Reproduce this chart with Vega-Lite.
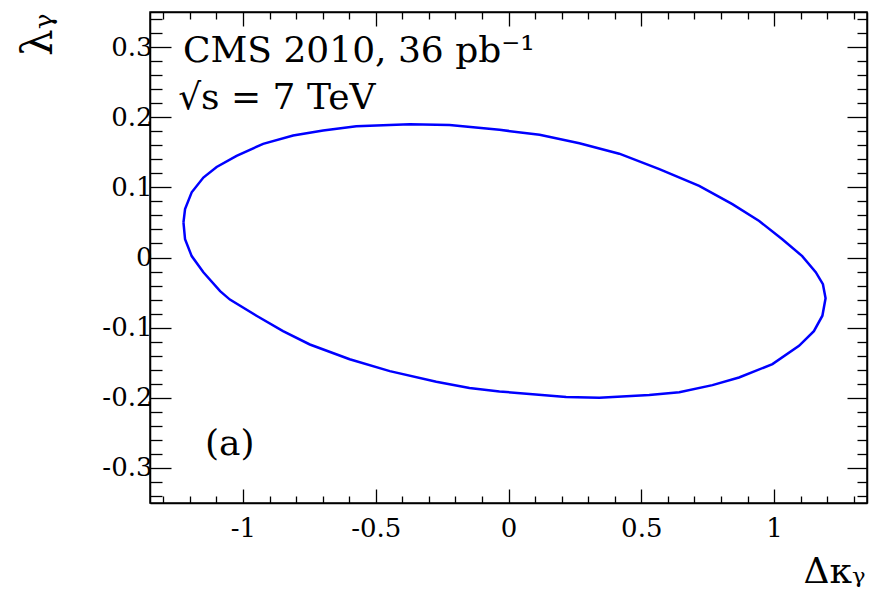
{
  "$schema": "https://vega.github.io/schema/vega-lite/v6.json",
  "width": 717,
  "height": 491,
  "autosize": {"type": "none"},
  "padding": {"left": 150, "top": 12, "right": 4, "bottom": 90},
  "background": "white",
  "config": {
    "view": {"stroke": "black", "strokeWidth": 1.5},
    "font": "DejaVu Serif",
    "axis": {"grid": false, "domainColor": "black", "domainWidth": 1.5, "tickColor": "black", "tickWidth": 1.3, "labelColor": "black", "labelFont": "DejaVu Serif", "labelFontSize": 26, "titleFont": "DejaVu Serif", "titleFontWeight": "normal", "titleColor": "black"}
  },
  "layer": [
    {
      "data": {"values": [
        {"i": 1, "dk": -1.224, "lg": 0.050},
        {"i": 2, "dk": -1.218, "lg": 0.069},
        {"i": 3, "dk": -1.193, "lg": 0.093},
        {"i": 4, "dk": -1.149, "lg": 0.114},
        {"i": 5, "dk": -1.099, "lg": 0.129},
        {"i": 6, "dk": -1.024, "lg": 0.145},
        {"i": 7, "dk": -0.924, "lg": 0.162},
        {"i": 8, "dk": -0.811, "lg": 0.174},
        {"i": 9, "dk": -0.698, "lg": 0.181},
        {"i": 10, "dk": -0.573, "lg": 0.187},
        {"i": 11, "dk": -0.372, "lg": 0.190},
        {"i": 12, "dk": -0.222, "lg": 0.189},
        {"i": 13, "dk": -0.034, "lg": 0.182},
        {"i": 14, "dk": 0.117, "lg": 0.175},
        {"i": 15, "dk": 0.267, "lg": 0.163},
        {"i": 16, "dk": 0.417, "lg": 0.148},
        {"i": 17, "dk": 0.568, "lg": 0.126},
        {"i": 18, "dk": 0.718, "lg": 0.102},
        {"i": 19, "dk": 0.843, "lg": 0.076},
        {"i": 20, "dk": 0.944, "lg": 0.052},
        {"i": 21, "dk": 1.031, "lg": 0.026},
        {"i": 22, "dk": 1.106, "lg": 0.002},
        {"i": 23, "dk": 1.157, "lg": -0.021},
        {"i": 24, "dk": 1.184, "lg": -0.038},
        {"i": 25, "dk": 1.194, "lg": -0.058},
        {"i": 26, "dk": 1.182, "lg": -0.083},
        {"i": 27, "dk": 1.150, "lg": -0.105},
        {"i": 28, "dk": 1.094, "lg": -0.126},
        {"i": 29, "dk": 0.994, "lg": -0.152},
        {"i": 30, "dk": 0.868, "lg": -0.171},
        {"i": 31, "dk": 0.768, "lg": -0.182},
        {"i": 32, "dk": 0.643, "lg": -0.192},
        {"i": 33, "dk": 0.530, "lg": -0.196},
        {"i": 34, "dk": 0.342, "lg": -0.200},
        {"i": 35, "dk": 0.217, "lg": -0.199},
        {"i": 36, "dk": 0.091, "lg": -0.195},
        {"i": 37, "dk": -0.034, "lg": -0.191},
        {"i": 38, "dk": -0.147, "lg": -0.186},
        {"i": 39, "dk": -0.272, "lg": -0.177},
        {"i": 40, "dk": -0.447, "lg": -0.162},
        {"i": 41, "dk": -0.598, "lg": -0.145},
        {"i": 42, "dk": -0.748, "lg": -0.124},
        {"i": 43, "dk": -0.849, "lg": -0.105},
        {"i": 44, "dk": -0.949, "lg": -0.083},
        {"i": 45, "dk": -1.049, "lg": -0.060},
        {"i": 46, "dk": -1.086, "lg": -0.048},
        {"i": 47, "dk": -1.149, "lg": -0.021},
        {"i": 48, "dk": -1.193, "lg": 0.002},
        {"i": 49, "dk": -1.218, "lg": 0.026},
        {"i": 50, "dk": -1.224, "lg": 0.050}
      ]},
      "mark": {"type": "line", "color": "#0000ff", "strokeWidth": 2.5, "clip": true},
      "encoding": {
        "x": {
          "field": "dk", "type": "quantitative",
          "scale": {"domain": [-1.35, 1.35], "nice": false, "zero": false},
          "axis": {
            "orient": "bottom",
            "values": [-1.3, -1.2, -1.1, -1, -0.9, -0.8, -0.7, -0.6, -0.5, -0.4, -0.3, -0.2, -0.1, 0, 0.1, 0.2, 0.3, 0.4, 0.5, 0.6, 0.7, 0.8, 0.9, 1, 1.1, 1.2, 1.3],
            "labelExpr": "abs(datum.value*2 - round(datum.value*2)) < 0.001 ? toString(datum.value) : ''",
            "tickSize": {"condition": {"test": "abs(datum.value*2 - round(datum.value*2)) < 0.001", "value": -14}, "value": -7},
            "labelFontSize": 26,
            "labelFont": "DejaVu Serif",
            "labelPadding": 26,
            "labelFlush": false,
            "labelOverlap": false,
            "title": "Δκᵧ",
            "titleFontSize": 36,
            "titleAlign": "right",
            "titleBaseline": "alphabetic",
            "titleAngle": 0,
            "titleX": 715,
            "titleY": 79
          }
        },
        "y": {
          "field": "lg", "type": "quantitative",
          "scale": {"domain": [-0.35, 0.35], "nice": false, "zero": false},
          "axis": {
            "orient": "left",
            "values": [-0.34, -0.32, -0.3, -0.28, -0.26, -0.24, -0.22, -0.2, -0.18, -0.16, -0.14, -0.12, -0.1, -0.08, -0.06, -0.04, -0.02, 0, 0.02, 0.04, 0.06, 0.08, 0.1, 0.12, 0.14, 0.16, 0.18, 0.2, 0.22, 0.24, 0.26, 0.28, 0.3, 0.32, 0.34],
            "labelExpr": "abs(datum.value*10 - round(datum.value*10)) < 0.001 ? toString(datum.value) : ''",
            "tickSize": {"condition": {"test": "abs(datum.value*10 - round(datum.value*10)) < 0.001", "value": -21}, "value": -12},
            "labelFontSize": 26,
            "labelFont": "DejaVu Serif",
            "labelPadding": 19,
            "labelFlush": false,
            "labelOverlap": false,
            "title": "λᵧ",
            "titleFontSize": 42,
            "titleAlign": "right",
            "titleBaseline": "alphabetic",
            "titleAngle": 270,
            "titleX": -99,
            "titleY": 1
          }
        },
        "order": {"field": "i", "type": "quantitative"}
      }
    },
    {
      "data": {"values": [
        {"label": "CMS 2010, 36 pb⁻¹", "tx": -1.226, "ty": 0.279},
        {"label": "√s = 7 TeV", "tx": -1.244, "ty": 0.212},
        {"label": "(a)", "tx": -1.143, "ty": -0.281}
      ]},
      "mark": {"type": "text", "align": "left", "baseline": "alphabetic", "font": "DejaVu Serif", "fontSize": 36, "color": "black"},
      "encoding": {
        "x": {
          "field": "tx", "type": "quantitative",
          "scale": {"domain": [-1.35, 1.35], "nice": false, "zero": false},
          "axis": {
            "orient": "top",
            "values": [-1.3, -1.2, -1.1, -1, -0.9, -0.8, -0.7, -0.6, -0.5, -0.4, -0.3, -0.2, -0.1, 0, 0.1, 0.2, 0.3, 0.4, 0.5, 0.6, 0.7, 0.8, 0.9, 1, 1.1, 1.2, 1.3],
            "labels": false,
            "tickSize": {"condition": {"test": "abs(datum.value*2 - round(datum.value*2)) < 0.001", "value": -14}, "value": -7},
            "title": null
          }
        },
        "y": {
          "field": "ty", "type": "quantitative",
          "scale": {"domain": [-0.35, 0.35], "nice": false, "zero": false},
          "axis": {
            "orient": "right",
            "values": [-0.34, -0.32, -0.3, -0.28, -0.26, -0.24, -0.22, -0.2, -0.18, -0.16, -0.14, -0.12, -0.1, -0.08, -0.06, -0.04, -0.02, 0, 0.02, 0.04, 0.06, 0.08, 0.1, 0.12, 0.14, 0.16, 0.18, 0.2, 0.22, 0.24, 0.26, 0.28, 0.3, 0.32, 0.34],
            "labels": false,
            "tickSize": {"condition": {"test": "abs(datum.value*10 - round(datum.value*10)) < 0.001", "value": -20}, "value": -10},
            "title": null
          }
        },
        "text": {"field": "label", "type": "nominal"}
      }
    }
  ],
  "resolve": {"axis": {"x": "independent", "y": "independent"}}
}
